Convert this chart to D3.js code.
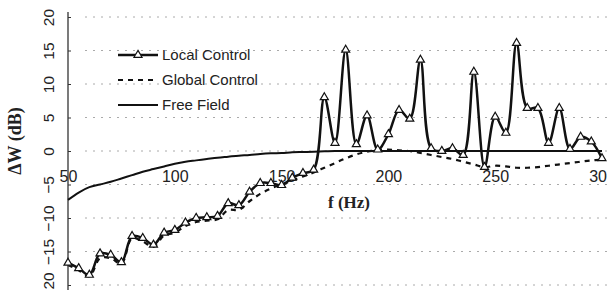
<!DOCTYPE html>
<html>
<head>
<meta charset="utf-8">
<script src="https://cdn.jsdelivr.net/npm/d3@7"></script>
<style>
  body { margin: 0; background: #fff; }
  svg { display: block; }
</style>
</head>
<body>
<script>
// frequencies (Hz), one reading every 5 Hz
var freq = d3.range(50, 301, 5);

// dB change
var localControl = [
  -16.7, -17.5, -18.5, -15.3, -15.5, -16.6, -12.7, -13.0, -14.0, -12.2,
  -11.8, -10.7, -10.0, -9.9, -9.7, -7.8, -8.1, -6.1, -4.8, -4.8,
  -5.1, -4.0, -3.3, -2.8, 8.0, 1.2, 15.1, 1.0, 5.3, 0.2,
  2.5, 6.1, 4.8, 13.6, 0.4, 0.0, 0.4, -0.6, 11.8, -2.4,
  5.1, 2.7, 16.1, 6.4, 6.4, 1.2, 6.4, 0.3, 2.1, 1.4,
  -1.1
];

var globalControl = [
  -17.0, -17.8, -18.7, -16.0, -16.0, -16.8, -13.0, -13.5, -14.3, -12.6,
  -12.2, -11.2, -10.6, -10.4, -10.2, -8.8, -8.8, -7.5, -6.4, -5.6,
  -5.0, -4.4, -3.8, -3.2, -2.5, -1.8, -1.1, -0.5, -0.1, 0.1,
  0.2, 0.1, 0.0, -0.3, -0.6, -0.9, -1.2, -1.6, -2.0, -2.4,
  -2.2, -2.3, -2.5, -2.5, -2.4, -2.2, -2.0, -1.8, -1.6, -1.4,
  -1.3
];

var freeField = [
  -7.3, -6.2, -5.4, -5.0, -4.6, -4.1, -3.6, -3.1, -2.7, -2.3,
  -1.9, -1.6, -1.4, -1.2, -1.0, -0.85, -0.7, -0.6, -0.45, -0.35,
  -0.3, -0.2, -0.15, -0.1, -0.05, 0, 0, 0, 0, 0,
  0, 0, 0, 0, 0, 0, 0, 0, 0, 0,
  0, 0, 0, 0, 0, 0, 0, 0, 0, 0,
  0
];

var xTicks = [50, 100, 150, 200, 250, 300];
var yTicks = [-20, -15, -10, -5, 0, 5, 10, 15, 20];

var seriesNames = ["Local Control", "Global Control", "Free Field"];

var width = 607, height = 290;

var svg = d3.select("body").append("svg")
    .attr("width", width)
    .attr("height", height);

var x = d3.scaleLinear().domain([50, 300]).range([68, 602]);
var y = d3.scaleLinear().domain([-20, 20]).range([285, 17]);

// faint dotted grid lines
svg.append("g")
  .selectAll("line")
  .data(yTicks)
  .join("line")
    .attr("x1", 85)
    .attr("x2", width)
    .attr("y1", function(d) { return y(d); })
    .attr("y2", function(d) { return y(d); })
    .attr("stroke", "#aaa")
    .attr("stroke-width", 1)
    .attr("stroke-dasharray", "2,6");

// y axis
var yAxis = svg.append("g")
    .attr("transform", "translate(68,0)")
    .call(d3.axisLeft(y).tickValues(yTicks).tickSize(3).tickFormat(d3.format("d")));
yAxis.select(".domain").attr("d", "M0,12V" + height).attr("stroke", "#333").attr("stroke-width", 1.3);
yAxis.selectAll(".tick line").attr("x2", 3).attr("stroke", "#333");
yAxis.selectAll("text")
    .attr("x", 0)
    .attr("dy", 0)
    .attr("text-anchor", "middle")
    .attr("transform", "translate(-14,0) rotate(-90)")
    .attr("font-family", "Liberation Sans, Arial, sans-serif")
    .attr("font-size", 15.5)
    .attr("fill", "#222");

// x axis labels, sitting under the zero line
var xAxis = svg.append("g")
    .attr("transform", "translate(0," + y(0) + ")")
    .call(d3.axisBottom(x).tickValues(xTicks).tickSize(0).tickPadding(20));
xAxis.select(".domain").remove();
xAxis.selectAll("text")
    .attr("font-family", "Liberation Sans, Arial, sans-serif")
    .attr("font-size", 16)
    .attr("fill", "#222");

// axis titles
svg.append("text")
    .attr("transform", "translate(21,141) rotate(-90)")
    .attr("text-anchor", "middle")
    .attr("font-family", "Liberation Serif, Times New Roman, serif")
    .attr("font-weight", "bold")
    .attr("font-size", 18)
    .attr("fill", "#222")
    .text("\u0394W (dB)");

svg.append("text")
    .attr("x", 349)
    .attr("y", 208)
    .attr("text-anchor", "middle")
    .attr("font-family", "Liberation Serif, Times New Roman, serif")
    .attr("font-weight", "bold")
    .attr("font-size", 17)
    .attr("fill", "#222")
    .text("f (Hz)");

function series(values) {
  return freq.map(function(f, i) { return {f: f, v: values[i]}; });
}

var smooth = d3.line()
    .x(function(d) { return x(d.f); })
    .y(function(d) { return y(d.v); })
    .curve(d3.curveCatmullRom.alpha(0.5));

// free field
svg.append("path")
    .datum(series(freeField))
    .attr("fill", "none")
    .attr("stroke", "#111")
    .attr("stroke-width", 2)
    .attr("d", smooth);

// global control
svg.append("path")
    .datum(series(globalControl))
    .attr("fill", "none")
    .attr("stroke", "#111")
    .attr("stroke-width", 2.2)
    .attr("stroke-dasharray", "5,5")
    .attr("d", smooth);

// local control
svg.append("path")
    .datum(series(localControl))
    .attr("fill", "none")
    .attr("stroke", "#111")
    .attr("stroke-width", 2.5)
    .attr("d", smooth);

var tri = d3.symbol().type(d3.symbolTriangle).size(28);

svg.append("g")
  .selectAll("path")
  .data(series(localControl))
  .join("path")
    .attr("transform", function(d) { return "translate(" + x(d.f) + "," + y(d.v) + ")"; })
    .attr("d", tri)
    .attr("fill", "#fff")
    .attr("stroke", "#111")
    .attr("stroke-width", 1.2);

// legend
var legend = svg.append("g");
var rows = legend.selectAll("g")
  .data(seriesNames)
  .join("g")
    .attr("transform", function(d, i) { return "translate(118," + (55 + i * 25) + ")"; });

rows.append("line")
    .attr("x1", 0)
    .attr("x2", 40)
    .attr("stroke", "#111")
    .attr("stroke-width", function(d, i) { return i === 0 ? 2.5 : 2; })
    .attr("stroke-dasharray", function(d, i) { return i === 1 ? "5,5" : null; });

rows.filter(function(d, i) { return i === 0; })
  .append("path")
    .attr("transform", "translate(20,0)")
    .attr("d", tri)
    .attr("fill", "#fff")
    .attr("stroke", "#111")
    .attr("stroke-width", 1.2);

rows.append("text")
    .attr("x", 44)
    .attr("y", 5)
    .attr("font-family", "Liberation Sans, Arial, sans-serif")
    .attr("font-size", 15)
    .attr("fill", "#222")
    .text(function(d) { return d; });
</script>
</body>
</html>
